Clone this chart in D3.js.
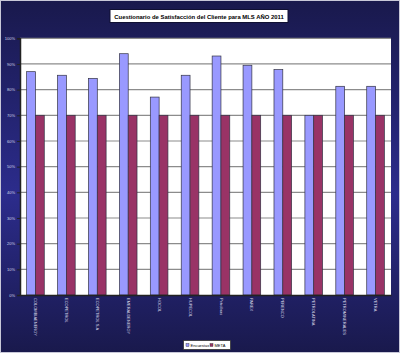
<!DOCTYPE html>
<html><head><meta charset="utf-8">
<script src="https://cdn.jsdelivr.net/npm/d3@7"></script>
<style>html,body{margin:0;padding:0;background:#1a1a50;}svg{display:block;} text{font-family:"Liberation Sans", Arial, sans-serif;}</style>
</head><body><svg id="c" width="400" height="353"></svg>
<script>
const categories = ["COLOMBIAENERGY","ECOPETROL","ECOPETROL S.A","EMERALDENERGY","HOCOL","HUPECOL","Petrobras","PAREX","PERENCO","PETROLATINA","PETROMINERALES","VETRA"];
const seriesNames = ["Encuestas","META"];
const encuestas = [87, 85.6, 84.4, 94, 77.1, 85.6, 93.1, 89.5, 87.8, 70, 81.3, 81.3];
const meta = [70,70,70,70,70,70,70,70,70,70,70,70];
const yTicks = [0,10,20,30,40,50,60,70,80,90,100];
const title = "Cuestionario de Satisfacción del Cliente para MLS AÑO 2011";

const svg = d3.select("#c");
const W = 400, H = 353;
const FONT = '"Liberation Sans", Arial, sans-serif';
const defs = svg.append("defs");
const g = defs.append("linearGradient").attr("id","bg").attr("x1",0).attr("y1",0).attr("x2",0).attr("y2",1);
g.append("stop").attr("offset","0%").attr("stop-color","#19194c");
g.append("stop").attr("offset","55%").attr("stop-color","#2c2c8c");
g.append("stop").attr("offset","100%").attr("stop-color","#19194c");
svg.append("rect").attr("width",W).attr("height",H).attr("fill","url(#bg)");
svg.append("rect").attr("x",0.5).attr("y",0.5).attr("width",W-1).attr("height",H-1).attr("fill","none").attr("stroke","#c8c8d8").attr("stroke-width",1);

const plot = {l:20, r:391, t:38.3, b:295};
const x = d3.scaleBand().domain(categories).range([plot.l, plot.r]).paddingInner(0.43).paddingOuter(0.215);
const xs = d3.scaleBand().domain(seriesNames).range([0, x.bandwidth()]);
const y = d3.scaleLinear().domain([0,100]).range([plot.b, plot.t]);

svg.append("rect").attr("x",plot.l).attr("y",plot.t).attr("width",plot.r-plot.l).attr("height",plot.b-plot.t).attr("fill","#ffffff");

svg.append("g").selectAll("line").data(yTicks.filter(d=>d>0)).join("line")
  .attr("x1",plot.l).attr("x2",plot.r).attr("y1",d=>y(d)).attr("y2",d=>y(d))
  .attr("stroke","#8c8c8c").attr("stroke-width",1.2);

const data = categories.map((c,i)=>({c, vals:[{s:"Encuestas",v:encuestas[i]},{s:"META",v:meta[i]}]}));
const colors = {"Encuestas":"#9999ff","META":"#993366"};
const grp = svg.append("g").selectAll("g").data(data).join("g").attr("transform",d=>`translate(${x(d.c)},0)`);
grp.selectAll("rect").data(d=>d.vals).join("rect")
  .attr("x",d=>xs(d.s)).attr("width",xs.bandwidth())
  .attr("y",d=>y(d.v)).attr("height",d=>y(0)-y(d.v))
  .attr("fill",d=>colors[d.s]).attr("stroke","#333344").attr("stroke-width",0.7);

const yAxis = d3.axisLeft(y).tickValues(yTicks).tickFormat(d=>d+"%").tickSize(3).tickPadding(2);
const ya = svg.append("g").attr("transform",`translate(${plot.l},0)`).call(yAxis).attr("font-family",FONT).attr("font-size",4);
ya.select(".domain").attr("stroke","#222222").attr("stroke-width",1.5);
ya.selectAll(".tick line").attr("stroke","#222222");
ya.selectAll("text").attr("fill","#d8d8e8").style("font-size","4px").style("font-family",FONT);

const xAxis = d3.axisBottom(x).tickSize(0).tickPadding(0);
const xa = svg.append("g").attr("transform",`translate(0,${plot.b})`).call(xAxis).attr("font-family",FONT).attr("font-size",4);
xa.select(".domain").attr("stroke","#222222").attr("stroke-width",1.5);
xa.selectAll("text").attr("fill","#d8d8e8").style("font-size","4px").style("font-family",FONT)
  .attr("text-anchor","start").attr("dy","0.35em")
  .attr("transform","translate(0,3) rotate(90)").attr("y",0).attr("x",0);

const tg = svg.append("g");
tg.append("rect").attr("x",110).attr("y",9.5).attr("width",178).attr("height",13).attr("fill","#ffffff").attr("stroke","#111133").attr("stroke-width",1);
tg.append("text").attr("x",199).attr("y",18.5).attr("text-anchor","middle")
  .style("font-family",FONT).attr("font-weight","bold").style("font-size","5.9px").attr("fill","#000").text(title);

const lg = svg.append("g");
lg.append("rect").attr("x",183.5).attr("y",340.5).attr("width",47).attr("height",9).attr("fill","#ffffff").attr("stroke","#333333").attr("stroke-width",0.8);
seriesNames.forEach((s,i)=>{
  const lx = 186 + i*24;
  lg.append("rect").attr("x",lx).attr("y",343.5).attr("width",3).attr("height",3).attr("fill",colors[s]).attr("stroke","#333").attr("stroke-width",0.4);
  lg.append("text").attr("x",lx+4.5).attr("y",346.8).style("font-size","4px").style("font-family",FONT).attr("fill","#000").text(s);
});
</script></body></html>
